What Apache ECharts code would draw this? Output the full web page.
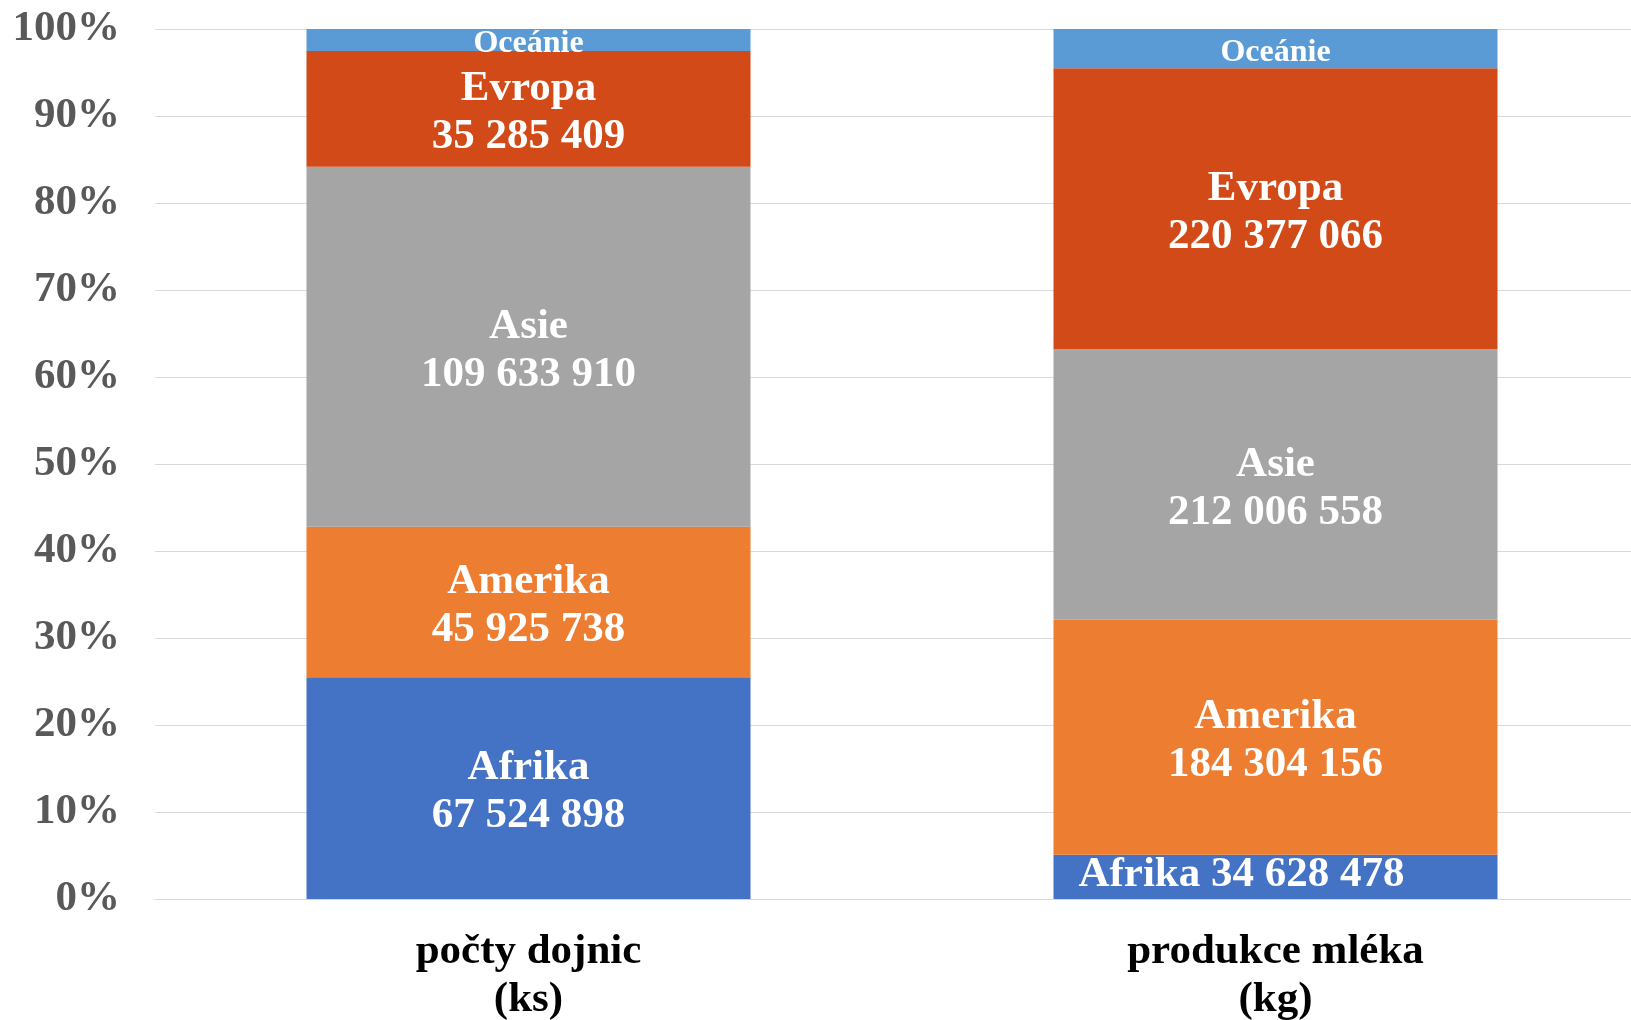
<!DOCTYPE html>
<html>
<head>
<meta charset="utf-8">
<script src="https://cdn.jsdelivr.net/npm/echarts@6/dist/echarts.min.js"></script>
<style>
  html, body { margin: 0; padding: 0; background: #fff; }
  #chart { width: 1631px; height: 1020px; }
</style>
</head>
<body>
<div id="chart"></div>
<script>
// kategorie (osa x)
const categories = ['počty dojnic\n(ks)', 'produkce mléka\n(kg)']
const continents = ['Afrika', 'Amerika', 'Asie', 'Evropa', 'Oceánie']
const colors = ['#4472C4', '#ED7D31', '#A5A5A5', '#D24A17', '#5B9BD5']

// hodnoty po kontinentech [dojnice, mléko]
const afrika = [67524898, 34628478]
const amerika = [45925738, 184304156]
const asie = [109633910, 212006558]
const evropa = [35285409, 220377066]
const oceanie = [6700000, 30800000] // odhad, hodnota v grafu není

const rawValues = [afrika, amerika, asie, evropa, oceanie]
const totals = categories.map((c, i) => rawValues.reduce((s, arr) => s + arr[i], 0))

const fmt = v => String(v).replace(/\B(?=(\d{3})+(?!\d))/g, ' ')
const font = 'Liberation Serif'

const series = continents.map((name, si) => {
  const small = name === 'Oceánie'
  return {
    name: name,
    type: 'bar',
    stack: 'total',
    barWidth: 444,
    itemStyle: { color: colors[si] },
    label: {
      show: true,
      position: 'inside',
      color: '#fff',
      fontFamily: font,
      fontWeight: 'bold',
      fontSize: small ? 32 : 43,
      lineHeight: small ? 32 : 48,
      offset: [0, 4],
      formatter: small
        ? name
        : p => name + '\n' + fmt(rawValues[si][p.dataIndex])
    },
    data: rawValues[si].map((v, i) => {
      const item = { value: v / totals[i] * 100 }
      // malý segment Afriky u mléka: popisek na jednom řádku
      if (name === 'Afrika' && i === 1) {
        item.label = {
          formatter: name + ' ' + fmt(v),
          offset: [-34, -2]
        }
      }
      return item
    })
  }
})

const chart = echarts.init(document.getElementById('chart'))
chart.setOption({
  animation: false,
  // mřížka přesahuje pravý okraj plátna
  grid: { left: 155, top: 29, width: 1494, height: 870, outerBoundsMode: 'none' },
  xAxis: {
    type: 'category',
    data: categories,
    axisLine: { lineStyle: { color: '#D9D9D9', width: 1 } },
    axisTick: { show: false },
    axisLabel: {
      color: '#000',
      fontFamily: font,
      fontWeight: 'bold',
      fontSize: 43,
      lineHeight: 48,
      margin: 29
    }
  },
  yAxis: {
    type: 'value',
    min: 0,
    max: 100,
    interval: 10,
    axisLine: { show: false },
    axisTick: { show: false },
    splitLine: { lineStyle: { color: '#D9D9D9', width: 1 } },
    axisLabel: {
      formatter: '{value}%',
      color: '#595959',
      fontFamily: font,
      fontWeight: 'bold',
      fontSize: 43,
      padding: [13, 0, 0, 0],
      margin: 35
    }
  },
  series: series
})
</script>
</body>
</html>
